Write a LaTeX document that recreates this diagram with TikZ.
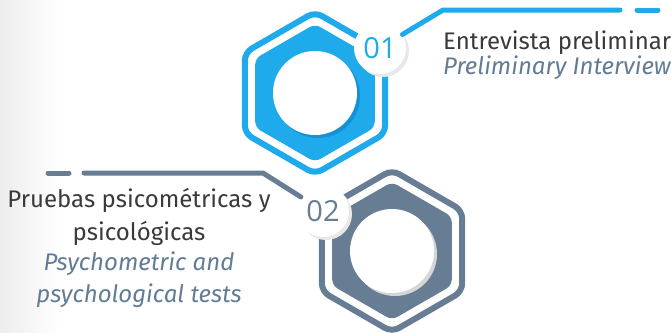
\documentclass[tikz,border=0pt]{standalone}
\usepackage{fontspec}
\setmainfont{Fira Sans}
\newfontfamily\numfont{Open Sans}
\usepackage{tikz}
\usetikzlibrary{shapes.geometric,positioning,calc}
\definecolor{hexblue}{RGB}{30,170,235}
\definecolor{blueshade}{RGB}{22,144,214}
\definecolor{hexgray}{RGB}{102,125,147}
\definecolor{grayshade}{RGB}{214,214,214}
\definecolor{badgeshade}{RGB}{232,232,232}
\definecolor{txtdark}{RGB}{58,58,58}
\definecolor{txtslate}{RGB}{98,124,150}

\begin{document}
\begin{tikzpicture}[x=1pt,y=-1pt,
  hexring/.style={regular polygon,regular polygon sides=6,shape border rotate=30,minimum size=162pt,inner sep=0pt,line width=6pt,rounded corners=8pt,draw},
  hexcore/.style={regular polygon,regular polygon sides=6,shape border rotate=30,minimum size=138pt,inner sep=0pt,rounded corners=6pt},
  hole/.style={circle,fill=white,minimum size=84pt,inner sep=0pt},
  badge/.style={circle,fill=white,minimum size=52pt,inner sep=0pt,font=\numfont\fontsize{29}{29}\selectfont},
  link/.style={line width=5pt,line cap=round},
  spanish/.style={text=txtdark,font=\fontsize{24}{24}\selectfont,inner sep=0pt},
  english/.style={text=txtslate,font=\itshape\fontsize{24}{24}\selectfont,inner sep=0pt}]
\useasboundingbox (0,0) rectangle (671,332);
\fill[left color=black!7,right color=white] (0,0) rectangle (60,332);

% step 01
\node[hexring,draw=hexblue] (h1) at (315,93) {};
\node[hexcore,fill=hexblue] (c1) at (315,93) {};
\node[hole,fill=blueshade] (s1) at ($(c1)+(3,3)$) {};
\node[hole] (o1) at (c1) {};

% step 02
\node[hexring,draw=hexgray] (h2) at (392,251) {};
\node[hexcore,fill=hexgray] (c2) at (392,251) {};
\node[hole,fill=grayshade] (s2) at ($(c2)+(3,3)$) {};
\node[hole] (o2) at (c2) {};

% badges
\node[badge,fill=badgeshade] (bs1) at (383,51) {};
\node[badge,text=hexblue] (b1) at (380,48) {01};
\node[badge,fill=badgeshade] (bs2) at (326,214) {};
\node[badge,text=hexgray] (b2) at (323,211) {02};

% connectors
\coordinate (k1) at (443,10);
\coordinate (e1) at (620,10);
\coordinate (d1a) at (637,10);
\coordinate (d1b) at (658,10);
\draw[link,hexblue] (b1) -- (k1) -- (e1);
\draw[link,hexblue] (d1a) -- (d1b);
\coordinate (k2) at (263,173);
\coordinate (e2) at (84,173);
\coordinate (d2a) at (69,173);
\coordinate (d2b) at (48,173);
\draw[link,hexgray] (b2) -- (k2) -- (e2);
\draw[link,hexgray] (d2a) -- (d2b);

% labels
\node[spanish,anchor=base west] (t1) at (443,49) {Entrevista preliminar};
\node[english,anchor=base west] (t2) at (443,74) {Preliminary Interview};
\node[spanish,anchor=base] (t3) at (139,207) {Pruebas psicométricas y};
\node[spanish,anchor=base] (t4) at (139,240) {psicológicas};
\node[english,anchor=base] (t5) at (139,270) {Psychometric and};
\node[english,anchor=base] (t6) at (139,302) {psychological tests};
\end{tikzpicture}
\end{document}
